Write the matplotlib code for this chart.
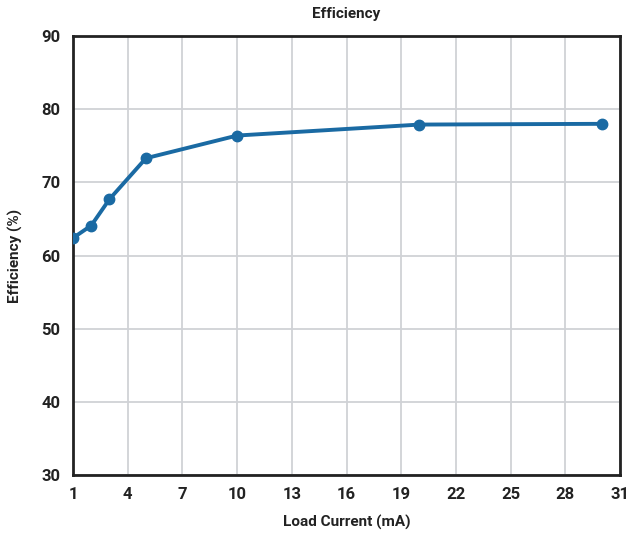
import matplotlib
matplotlib.use("Agg")
import matplotlib.pyplot as plt

# datos
load_ma = [1, 2, 3, 5, 10, 20, 30]
efficiency = [62.4, 64.1, 67.7, 73.3, 76.4, 77.9, 78.0]
x_ticks = [1, 4, 7, 10, 13, 16, 19, 22, 25, 28, 31]
y_ticks = [30, 40, 50, 60, 70, 80, 90]

plt.rcParams["font.family"] = ["Roboto", "DejaVu Sans"]

fig = plt.figure(figsize=(6.31, 5.34), dpi=100)
ax = fig.add_axes([0.1157, 0.1105, 0.867, 0.822])

ax.plot(load_ma, efficiency, color="#1a6aa3", lw=2.8, marker="o", ms=7.5,
        solid_capstyle="round", zorder=3)

ax.set_xlim(1, 31)
ax.set_ylim(30, 90)
ax.set_xticks(x_ticks)
ax.set_yticks(y_ticks)
ax.grid(True, color="#d0d2d6", lw=1.3)
ax.set_axisbelow(True)
for s in ax.spines.values():
    s.set_linewidth(2)
    s.set_color("#222222")
ax.tick_params(length=0, pad=9, labelsize=12, colors="#222222")
for lab in ax.get_xticklabels() + ax.get_yticklabels():
    lab.set_fontweight("bold")

ax.set_title("Efficiency", fontsize=11, fontweight="bold", pad=13, color="#222222")
ax.set_xlabel("Load Current (mA)", fontsize=11, fontweight="bold", labelpad=9, color="#222222")
ax.set_ylabel("Efficiency (%)", fontsize=11, fontweight="bold", labelpad=13, color="#222222")

fig.savefig("out.png", dpi=100)
